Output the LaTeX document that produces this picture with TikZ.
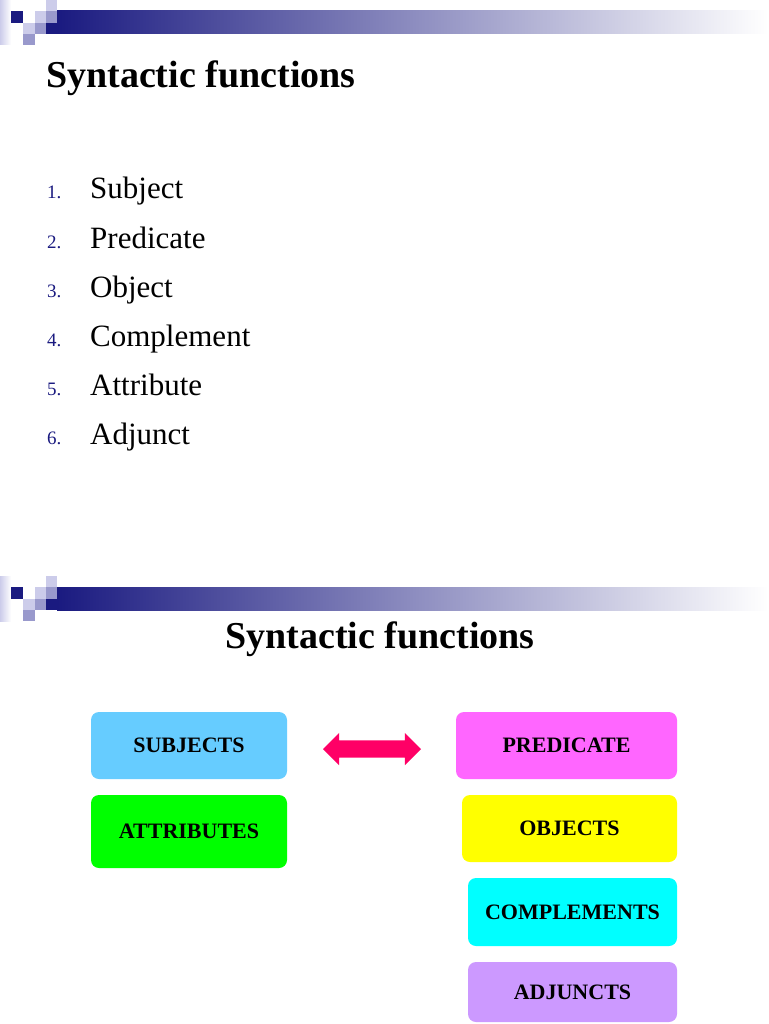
\documentclass[tikz,border=0pt]{standalone}
\usepackage{fontspec}
\setmainfont{Liberation Serif}
\usepackage{tikz}
\usetikzlibrary{shapes.arrows, positioning}

\definecolor{navy}{HTML}{1A1A80}
\definecolor{lavlight}{HTML}{CCCCEA}
\definecolor{lavmid}{HTML}{9999CC}
\definecolor{barmid}{HTML}{D2D2DE}
\definecolor{subjblue}{HTML}{66CCFF}
\definecolor{attrgreen}{HTML}{00FF00}
\definecolor{predpink}{HTML}{FF66FF}
\definecolor{objyellow}{HTML}{FFFF00}
\definecolor{compcyan}{HTML}{00FFFF}
\definecolor{adjviolet}{HTML}{CC99FF}
\definecolor{arrowpink}{HTML}{FF0066}

\begin{document}
\begin{tikzpicture}[
        x=1pt, y=-1pt,
        title/.style={font=\fontsize{38}{40}\selectfont\bfseries, inner sep=0pt, anchor=base west},
        item/.style={font=\fontsize{31}{33}\selectfont, inner sep=0pt, anchor=base west},
        itemnum/.style={font=\fontsize{19}{21}\selectfont, text=navy, inner sep=0pt, anchor=base west},
        fnbox/.style={rectangle, rounded corners=8pt, inner sep=0pt,
          font=\fontsize{22}{24}\selectfont\bfseries, text=black},
    ]
        \useasboundingbox[fill=white] (0,0) rectangle (768,1024);

        % slide headers
        \foreach \off in {0,576} {
          \begin{scope}[shift={(0,\off)}]
            \shade[left color=lavlight, right color=white] (0,0) rectangle (11,45);
            \shade[left color=navy, middle color=barmid, right color=white] (57,11) rectangle (768,34);
            \fill[navy] (46,23) rectangle (57,34);
            \fill[navy] (11,11) rectangle (23,23);
            \fill[lavlight] (46,0) rectangle (57,11);
            \fill[lavlight] (35,11) rectangle (46,23);
            \fill[lavmid] (46,11) rectangle (57,23);
            \fill[lavlight] (23,23) rectangle (35,34);
            \fill[lavmid] (35,23) rectangle (46,34);
            \fill[lavmid] (23,34) rectangle (35,45);
          \end{scope}
        }

        % first slide
        \node[title] (title1) at (46,88) {Syntactic functions};
        \foreach \txt [count=\i] in {Subject, Predicate, Object, Complement, Attribute, Adjunct} {
          \node[itemnum] (num\i) at (47,199+49*\i-49) {\i.};
          \node[item] (item\i) at (90,199+49*\i-49) {\txt};
        }

        % second slide
        \node[title, anchor=base] (title2) at (380,648) {Syntactic functions};

        \node[fnbox, fill=subjblue, minimum width=196pt, minimum height=67pt] (subj) at (189,745.5) {SUBJECTS};
        \node[fnbox, fill=attrgreen, minimum width=196pt, minimum height=73pt] (attr) at (189,831.5) {ATTRIBUTES};
        \node[fnbox, fill=predpink, minimum width=221pt, minimum height=67pt] (pred) at (566.5,745.5) {PREDICATE};
        \node[fnbox, fill=objyellow, minimum width=215pt, minimum height=67pt] (obj) at (569.5,828.5) {OBJECTS};
        \node[fnbox, fill=compcyan, minimum width=209pt, minimum height=68pt] (comp) at (572.5,912) {COMPLEMENTS};
        \node[fnbox, fill=adjviolet, minimum width=209pt, minimum height=60pt] (adj) at (572.5,992) {ADJUNCTS};

        \node[double arrow, fill=arrowpink, inner xsep=0pt, inner ysep=8.5pt, minimum height=98pt,
          minimum width=32pt, double arrow head extend=7.5pt] (link) at (372,749) {};
    \end{tikzpicture}
\end{document}
